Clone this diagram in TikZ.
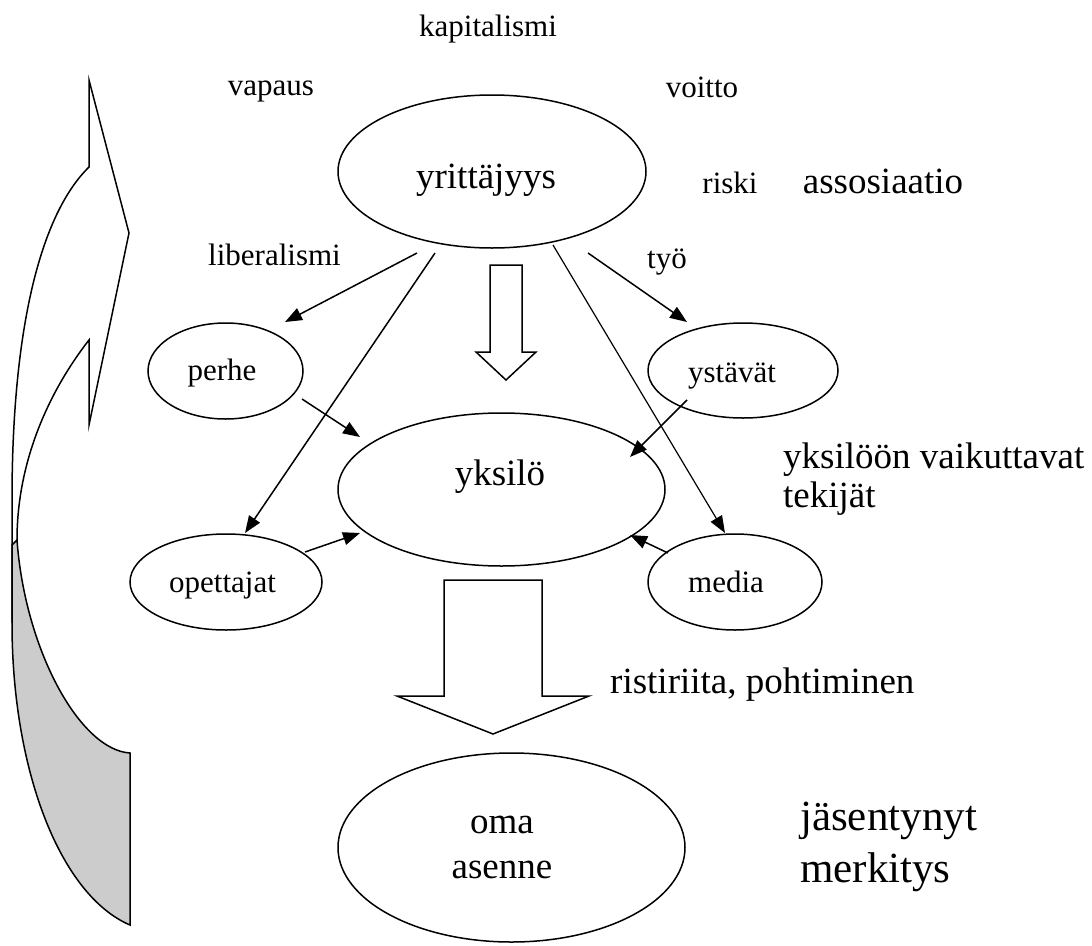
\documentclass[tikz,border=0pt]{standalone}
\usepackage{fontspec}
\setmainfont{Liberation Serif}
\usetikzlibrary{shapes.geometric,arrows.meta}
\begin{document}
\begin{tikzpicture}[x=1pt,y=-1pt,
  ell/.style={draw, ellipse, line width=1.5pt, inner sep=0pt},
  sm/.style={inner sep=0pt, anchor=base, font=\fontsize{31}{36}\selectfont},
  md/.style={inner sep=0pt, anchor=base, font=\fontsize{37}{42}\selectfont},
  lg/.style={inner sep=0pt, anchor=base west, font=\fontsize{43}{50}\selectfont},
  arr/.style={line width=1.5pt, -{Triangle[length=17pt,width=13pt]}},
  blk/.style={draw, line width=1.5pt, fill=white, line join=miter}]
\useasboundingbox (0,0) rectangle (1092,945);

% left curved arrow
\draw[blk] (12,623) -- (12,500) .. controls (12,330) and (40,215) .. (89,167)
  -- (89,80) -- (129,233) -- (89,425) -- (89,340)
  .. controls (50,390) and (17,460) .. (17,540) -- cycle;
\draw[line width=1.5pt, fill={rgb,255:red,204;green,204;blue,204}]
  (17,540) .. controls (25,650) and (80,750) .. (130,753) -- (130,925)
  .. controls (60,895) and (12,770) .. (12,623) -- (12,545) -- cycle;

% ellipses
\node[ell, minimum width=308pt, minimum height=153pt] (yr) at (492,171.5) {};
\node[ell, minimum width=155pt, minimum height=96pt] (pe) at (225.5,371) {};
\node[ell, minimum width=190pt, minimum height=95pt] (ys) at (743,370.5) {};
\node[ell, minimum width=327pt, minimum height=153pt] (yk) at (501.5,489.5) {};
\node[ell, minimum width=192pt, minimum height=96pt] (op) at (226,582) {};
\node[ell, minimum width=174pt, minimum height=96pt] (me) at (735,582) {};
\node[ell, minimum width=347pt, minimum height=189pt] (om) at (511.5,847.5) {};

% block arrows
\draw[blk] (490,265) -- (522,265) -- (522,352) -- (536,352) -- (506,380) -- (476,352) -- (490,352) -- cycle;
\draw[blk] (444,580) -- (542,580) -- (542,696) -- (589,696) -- (493,734) -- (397,696) -- (444,696) -- cycle;

% texts
\node[sm] (t1) at (488,36) {kapitalismi};
\node[sm] (t2) at (271,95) {vapaus};
\node[sm] (t3) at (702,97) {voitto};
\node[md] (t4) at (486,188) {yrittäjyys};
\node[sm] (t5) at (730,193) {riski};
\node[md] (t6) at (883,193) {assosiaatio};
\node[sm] (t7) at (274.5,265) {liberalismi};
\node[sm] (t8) at (667,268) {työ};
\node[sm] (t9) at (222,380) {perhe};
\node[sm] (t10) at (732,382) {ystävät};
\node[md] (t11) at (500,485) {yksilö};
\node[sm] (t12) at (222.5,592) {opettajat};
\node[sm] (t13) at (726,592) {media};
\node[md, anchor=base west] (t14) at (783,468) {yksilöön vaikuttavat};
\node[md, anchor=base west] (t15) at (783,507) {tekijät};
\node[md, anchor=base west] (t16) at (610,693) {ristiriita, pohtiminen};
\node[md] (t17) at (502,833) {oma};
\node[md] (t18) at (502,878) {asenne};
\node[lg] (t19) at (800,830) {jäsentynyt};
\node[lg] (t20) at (800,882) {merkitys};

% connector end points
\coordinate (a1) at (417,253); \coordinate (b1) at (285,322);
\coordinate (a2) at (435,253); \coordinate (b2) at (245,533);
\coordinate (a3) at (588,253); \coordinate (b3) at (687,322);
\coordinate (a4) at (553,245); \coordinate (b4) at (725,533);
\coordinate (a5) at (302,399); \coordinate (b5) at (360,437);
\coordinate (a6) at (305,552); \coordinate (b6) at (360,533);
\coordinate (a7) at (687,400); \coordinate (b7) at (630,457);
\coordinate (a8) at (668,553); \coordinate (b8) at (630,535);

\draw[arr] (a1) -- (b1);
\draw[arr] (a2) -- (b2);
\draw[arr] (a3) -- (b3);
\draw[arr, line width=1.2pt] (a4) -- (b4);
\draw[arr] (a5) -- (b5);
\draw[arr] (a6) -- (b6);
\draw[arr] (a7) -- (b7);
\draw[arr] (a8) -- (b8);
\end{tikzpicture}
\end{document}
